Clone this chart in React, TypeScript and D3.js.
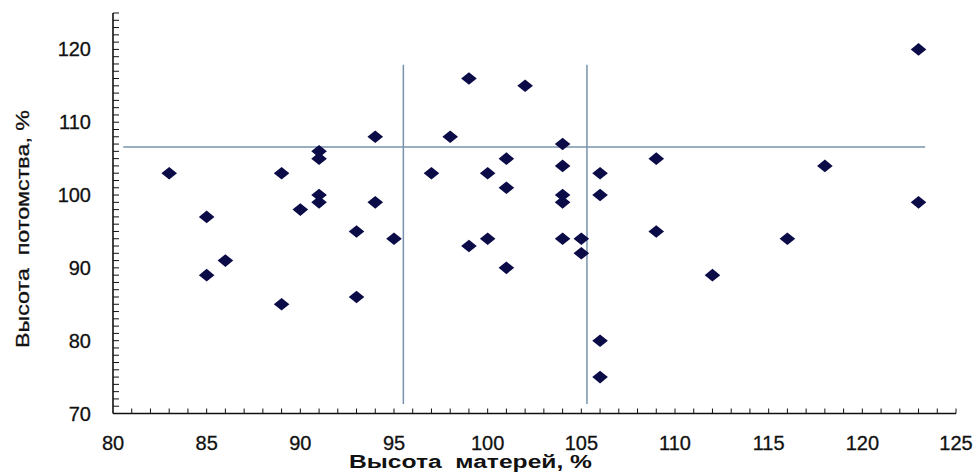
import React from "react";
import * as d3 from "d3";

// Data: mothers' height (%) vs offspring height (%)
const motherHeight = [
  83, 85, 85, 86, 89, 89, 90, 91, 91, 91, 91, 93, 93, 94, 94, 95, 97, 98, 99, 99,
  100, 100, 101, 101, 101, 102, 104, 104, 104, 104, 104, 105, 105, 106, 106, 106, 106,
  109, 109, 112, 116, 118, 123, 123,
];
const offspringHeight = [
  103, 97, 89, 91, 103, 85, 98, 106, 105, 100, 99, 95, 86, 108, 99, 94, 103, 108, 116, 93,
  103, 94, 105, 101, 90, 115, 107, 104, 100, 99, 94, 94, 92, 103, 100, 80, 75,
  105, 95, 89, 94, 104, 120, 99,
];

// Reference lines
const refVerticalX = [95.5, 105.3];
const refVerticalExtent = [71.3, 117.9];
const refHorizontalY = [106.6];
const refHorizontalExtent = [80.55, 123.35];

// Axes
const xTickLabels = [80, 85, 90, 95, 100, 105, 110, 115, 120, 125];
const yTickLabels = [70, 80, 90, 100, 110, 120];
const xDomain = [80, 125];
const yDomain = [70, 125];
const xTitle = "Высота  матерей, %";
const yTitle = "Высота  потомства, %";

const W = 975;
const H = 475;

export default function App() {
  const x = d3.scaleLinear().domain(xDomain).range([113, 956]);
  const y = d3.scaleLinear().domain(yDomain).range([413.5, 13]);
  const xMinor = d3.range(xDomain[0] + 1, xDomain[1] + 1, 1);
  const yMinor = d3.range(yDomain[0] + 1, yDomain[1] + 1, 1);
  const font = "'Liberation Sans', Arial, sans-serif";
  const refColor = "#7893ad";
  const markColor = "#0b0b48";
  const diamond = (cx: number, cy: number) =>
    `M${cx},${cy - 6.3}L${cx + 7.8},${cy}L${cx},${cy + 6.3}L${cx - 7.8},${cy}Z`;

  return (
    <svg
      width={W}
      height={H}
      style={{ position: "absolute", left: 0, top: 0, background: "#fff" }}
      fontFamily={font}
    >
      <rect width={W} height={H} fill="#fff" />
      {/* reference lines */}
      {refVerticalX.map((v, i) => (
        <line
          key={"rv" + i}
          x1={x(v)}
          x2={x(v)}
          y1={y(refVerticalExtent[0])}
          y2={y(refVerticalExtent[1])}
          stroke={refColor}
          strokeWidth={1.5}
        />
      ))}
      {refHorizontalY.map((v, i) => (
        <line
          key={"rh" + i}
          x1={x(refHorizontalExtent[0])}
          x2={x(refHorizontalExtent[1])}
          y1={y(v)}
          y2={y(v)}
          stroke={refColor}
          strokeWidth={1.5}
        />
      ))}
      {/* axes */}
      <line x1={x(xDomain[0])} x2={x(xDomain[1])} y1={y(yDomain[0])} y2={y(yDomain[0])} stroke="#111" strokeWidth={1.6} />
      <line x1={x(xDomain[0])} x2={x(xDomain[0])} y1={y(yDomain[0])} y2={y(yDomain[1])} stroke="#111" strokeWidth={1.6} />
      {xMinor.map((v) => (
        <line key={"xt" + v} x1={x(v)} x2={x(v)} y1={y(yDomain[0])} y2={y(yDomain[0]) - 5} stroke="#111" strokeWidth={1} />
      ))}
      {yMinor.map((v) => (
        <line key={"yt" + v} x1={x(xDomain[0])} x2={x(xDomain[0]) + 6} y1={y(v)} y2={y(v)} stroke="#111" strokeWidth={1} />
      ))}
      {xTickLabels.map((v) => (
        <text key={"xl" + v} x={x(v)} y={450} textAnchor="middle" fontSize={20} fill="#111" stroke="#111" strokeWidth={0.3}>
          {v}
        </text>
      ))}
      {yTickLabels.map((v) => (
        <text key={"yl" + v} x={91} y={y(v)} dy="0.35em" textAnchor="end" fontSize={20} fill="#111" stroke="#111" strokeWidth={0.3}>
          {v}
        </text>
      ))}
      {/* titles */}
      <text
        x={470.5}
        y={468}
        textAnchor="middle"
        fontSize={18}
        fontWeight="bold"
        fill="#111"
        textLength={243}
        lengthAdjust="spacingAndGlyphs"
        style={{ whiteSpace: "pre" }}
      >
        {xTitle}
      </text>
      <text
        transform="translate(29,229) rotate(-90)"
        textAnchor="middle"
        fontSize={19}
        fill="#111"
        stroke="#111"
        strokeWidth={0.3}
        textLength={238}
        lengthAdjust="spacingAndGlyphs"
        style={{ whiteSpace: "pre" }}
      >
        {yTitle}
      </text>
      {/* points */}
      {motherHeight.map((m, i) => (
        <path key={"p" + i} d={diamond(x(m), y(offspringHeight[i]))} fill={markColor} />
      ))}
    </svg>
  );
}
